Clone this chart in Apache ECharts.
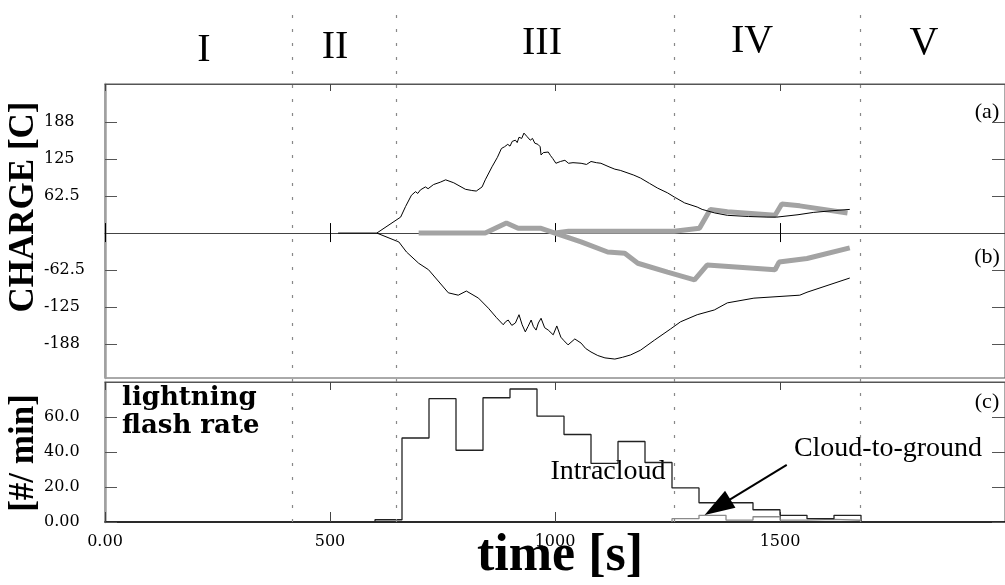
<!DOCTYPE html>
<html><head><meta charset="utf-8">
<script src="https://cdn.jsdelivr.net/npm/echarts@6/dist/echarts.min.js"></script>
<style>html,body{margin:0;padding:0;background:#fff}#c{width:1005px;height:585px}</style>
</head><body><div id="c"></div>
<script>
// ---- data ----
const timeTicks = [0, 500, 1000, 1500];
const chargeTicks = [-187.5, -125, -62.5, 62.5, 125, 187.5];
const rateTicks = [0, 20, 40, 60];
const phaseNames = ['I', 'II', 'III', 'IV', 'V'];
const phaseBounds = [417, 648, 1264, 1678];

const posCharge = [[518,0],[604,0],[657,27],[668,45],[681,64],[690,70],[695,67],[701,73],[712,78],[718,75],[730,82],[745,86],[757,90],[775,85],[801,74],[815,72],[825,71],[838,78],[845,90],[860,112],[872,128],[881,143],[888,146],[895,150],[900,147],[905,155],[912,157],[916,153],[920,162],[926,160],[931,169],[938,163],[945,157],[950,160],[955,152],[962,150],[967,146],[969,132],[974,136],[978,138],[985,137],[990,131],[995,126],[1002,118],[1012,121],[1022,123],[1030,118],[1040,119],[1058,118],[1070,116],[1080,121],[1092,119],[1102,118],[1120,112],[1133,108],[1145,106],[1160,102],[1175,98],[1190,93],[1210,84],[1228,76],[1250,68],[1265,61],[1288,51],[1316,44],[1327,40],[1355,34],[1383,30],[1430,28],[1471,27],[1493,27],[1540,31],[1575,35],[1620,38],[1655,40]];
const negCharge = [[604,0],[653,-15],[670,-32],[697,-51],[719,-62],[763,-101],[785,-105],[803,-98],[830,-110],[852,-127],[870,-143],[885,-155],[890,-150],[896,-147],[904,-156],[912,-152],[920,-138],[927,-155],[934,-167],[940,-158],[947,-147],[952,-158],[958,-164],[963,-152],[969,-144],[977,-160],[985,-164],[996,-172],[1004,-157],[1013,-176],[1020,-182],[1029,-189],[1044,-179],[1058,-186],[1068,-195],[1080,-201],[1095,-207],[1111,-211],[1133,-213],[1150,-210],[1168,-206],[1190,-198],[1221,-181],[1257,-162],[1279,-150],[1316,-138],[1354,-130],[1383,-118],[1442,-110],[1544,-105],[1560,-100],[1655,-76]];
const grayNeg = [[697,0],[845,0],[892,17],[918,8],[969,8],[1000,0],[1058,-15],[1117,-32],[1155,-34],[1184,-51],[1250,-66],[1310,-79],[1338,-54],[1489,-62],[1498,-49],[1560,-43],[1655,-25]];
const grayPos = [[1000,0],[1030,3],[1265,3],[1321,8],[1345,40],[1383,36],[1489,30],[1504,49],[1544,46],[1650,34]];

const icBins = [600,660,720,780,840,900,960,1020,1080,1140,1200,1260,1320,1380,1440,1500,1560,1620];
const icRate = [1.3,48,70.5,41,71,76,60.5,50,33.5,46,34,19.5,11,11,7,3.8,1.9,3.8];
const cgBins = [1260,1320,1380,1440,1500,1560,1620];
const cgRate = [1.9,3.8,1.1,3.0,1.1,1.5,1.0];
const binEnd = 1680;
const arrowFrom = [1515, 32.6];
const arrowTo = [1361, 8.5];

// ---- build ----
function stepData(bins, vals){
  const d = [[bins[0],0]];
  bins.forEach((t,i)=>d.push([t, vals[i]]));
  d.push([binEnd, 0]);
  return d;
}
const serif = 'Liberation Serif';
const tickLbl = {fontFamily:'DejaVu Serif', fontSize:16, color:'#000', align:'left'};
const chart = echarts.init(document.getElementById('c'));
const xBase = {type:'value', min:0, max:2000, splitLine:{show:false}};
chart.setOption({
  animation:false,
  backgroundColor:'#fff',
  grid:[
    {left:105, width:904, top:84, height:294, show:true, borderColor:'#555', borderWidth:1},
    {left:105, width:904, top:382, height:140, show:true, borderColor:'#555', borderWidth:1},
    {left:105, width:904, top:8, height:514, show:false}
  ],
  xAxis:[
    Object.assign({gridIndex:0, position:'bottom', axisLine:{onZero:true, lineStyle:{color:'#444', width:1}}, axisTick:{inside:true, length:10, customValues:timeTicks, lineStyle:{color:'#000'}}, axisLabel:{show:false}}, xBase),
    Object.assign({gridIndex:0, position:'top', axisLine:{onZero:false, lineStyle:{color:'#555'}}, axisTick:{inside:true, length:7, customValues:timeTicks, lineStyle:{color:'#444'}}, axisLabel:{show:false}}, xBase),
    Object.assign({gridIndex:0, position:'top', axisLine:{onZero:true, show:false}, axisTick:{inside:true, length:9, customValues:timeTicks, lineStyle:{color:'#000'}}, axisLabel:{show:false}}, xBase),
    Object.assign({gridIndex:1, position:'bottom', axisLine:{onZero:true, lineStyle:{color:'#000', width:1.5}}, axisTick:{inside:true, length:10, customValues:timeTicks, lineStyle:{color:'#444'}}, axisLabel:{customValues:timeTicks, margin:12, fontFamily:'DejaVu Serif', fontSize:16, color:'#000', formatter:v=>v===0?'0.00':String(v)}}, xBase),
    Object.assign({gridIndex:1, position:'top', axisLine:{onZero:false, lineStyle:{color:'#555'}}, axisTick:{inside:true, length:8, customValues:timeTicks, lineStyle:{color:'#444'}}, axisLabel:{show:false}}, xBase),
    Object.assign({gridIndex:2, show:false}, xBase)
  ],
  yAxis:[
    {gridIndex:0, type:'value', min:-245, max:252, position:'left', splitLine:{show:false},
     axisLine:{show:true, onZero:false, lineStyle:{color:'#a0a0a0', width:2.5}},
     axisTick:{inside:true, length:12, customValues:chargeTicks, lineStyle:{color:'#555'}},
     axisLabel:Object.assign({customValues:chargeTicks, margin:61, formatter:v=>Math.abs(v)===187.5?(v<0?'-188':'188'):String(v)}, tickLbl)},
    {gridIndex:0, type:'value', min:-245, max:252, position:'right', splitLine:{show:false},
     axisLine:{show:false, onZero:false},
     axisTick:{inside:true, length:13, customValues:chargeTicks, lineStyle:{color:'#555'}},
     axisLabel:{show:false}},
    {gridIndex:1, type:'value', min:0, max:80, position:'left', splitLine:{show:false},
     axisLine:{show:true, onZero:false, lineStyle:{color:'#a0a0a0', width:2.5}},
     axisTick:{inside:true, length:12, customValues:rateTicks, lineStyle:{color:'#555'}},
     axisLabel:Object.assign({customValues:rateTicks, margin:61, formatter:v=>v===0?'0.00':v.toFixed(1)}, tickLbl)},
    {gridIndex:1, type:'value', min:0, max:80, position:'right', splitLine:{show:false},
     axisLine:{show:false, onZero:false},
     axisTick:{inside:true, length:13, customValues:rateTicks, lineStyle:{color:'#555'}},
     axisLabel:{show:false}},
    {gridIndex:2, type:'value', min:0, max:1, show:false}
  ],
  series:[
    {type:'line', xAxisIndex:5, yAxisIndex:4, data:[], silent:true,
     markLine:{symbol:'none', silent:true, label:{show:false}, animation:false,
       lineStyle:{type:[3,11], color:'#888', width:1.2},
       data:phaseBounds.map(x=>({xAxis:x}))}},
    {type:'line', xAxisIndex:0, yAxisIndex:0, data:grayNeg, showSymbol:false, symbol:'none', lineStyle:{color:'#a3a3a3', width:5}, z:3},
    {type:'line', xAxisIndex:0, yAxisIndex:0, data:grayPos, showSymbol:false, symbol:'none', lineStyle:{color:'#a3a3a3', width:5}, z:3},
    {type:'line', xAxisIndex:0, yAxisIndex:0, data:posCharge, showSymbol:false, symbol:'none', lineStyle:{color:'#000', width:1}, z:4},
    {type:'line', xAxisIndex:0, yAxisIndex:0, data:negCharge, showSymbol:false, symbol:'none', lineStyle:{color:'#000', width:1}, z:4},
    {type:'line', xAxisIndex:3, yAxisIndex:2, data:stepData(cgBins, cgRate), step:'end', showSymbol:false, symbol:'none', lineStyle:{color:'#8a8a8a', width:1.3}, z:3},
    {type:'line', xAxisIndex:3, yAxisIndex:2, data:stepData(icBins, icRate), step:'end', showSymbol:false, symbol:'none', lineStyle:{color:'#222', width:1.3}, z:4,
     markLine:{silent:true, symbol:['none','triangle'], symbolSize:[20,30], label:{show:false}, animation:false,
       itemStyle:{color:'#000'},
       lineStyle:{type:'solid', color:'#000', width:2},
       data:[[{coord:arrowFrom},{coord:arrowTo}]]}}
  ],
  graphic:[
    ...phaseNames.map((n,i)=>({type:'text', x:[204,335,542,752,924][i], y:[50,47,43,41,43][i],
      style:{text:n, fontFamily:serif, fontSize:40, fill:'#000', textAlign:'center', textVerticalAlign:'middle'}})),
    {type:'text', x:987, y:112, style:{text:'(a)', fontFamily:serif, fontSize:22, fill:'#000', textAlign:'center', textVerticalAlign:'middle'}},
    {type:'text', x:987, y:257, style:{text:'(b)', fontFamily:serif, fontSize:22, fill:'#000', textAlign:'center', textVerticalAlign:'middle'}},
    {type:'text', x:987, y:402, style:{text:'(c)', fontFamily:serif, fontSize:22, fill:'#000', textAlign:'center', textVerticalAlign:'middle'}},
    {type:'text', x:122, y:384, style:{text:'lightning\nflash rate', fontFamily:'DejaVu Serif', fontWeight:'bold', fontSize:26, lineHeight:28, fill:'#000'}},
    {type:'text', x:608, y:472, style:{text:'Intracloud', fontFamily:serif, fontSize:28, fill:'#000', textAlign:'center', textVerticalAlign:'middle'}},
    {type:'text', x:888, y:449, style:{text:'Cloud-to-ground', fontFamily:serif, fontSize:28, fill:'#000', textAlign:'center', textVerticalAlign:'middle'}},
    {type:'text', x:24, y:207, rotation:Math.PI/2, style:{text:'CHARGE [C]', fontFamily:serif, fontWeight:'bold', fontSize:35, fill:'#000', textAlign:'center', textVerticalAlign:'middle'}},
    {type:'text', x:24, y:453, rotation:Math.PI/2, style:{text:'[#/ min]', fontFamily:serif, fontWeight:'bold', fontSize:35, fill:'#000', textAlign:'center', textVerticalAlign:'middle'}},
    {type:'text', x:560, y:557, style:{text:'time [s]', fontFamily:serif, fontWeight:'bold', fontSize:52, fill:'#000', textAlign:'center', textVerticalAlign:'middle'}}
  ]
});
</script></body></html>
